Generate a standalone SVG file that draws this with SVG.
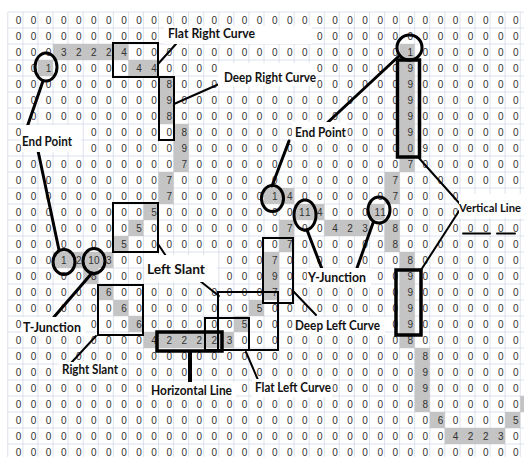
<svg xmlns="http://www.w3.org/2000/svg" width="524" height="457" viewBox="0 0 524 457">
<style>
.g{stroke:#d3dbe6;stroke-width:0.8;fill:none}
.c{fill:#c4c4c4}
.d{font-family:'Liberation Sans',Arial,sans-serif;font-size:10px;fill:#333;text-anchor:middle}
.b{fill:none;stroke:#000;stroke-width:2}
.bt{fill:none;stroke:#000;stroke-width:3.5}
.o{fill:none;stroke:#000;stroke-width:3}
.k{stroke:#000;stroke-width:3;stroke-linecap:round;fill:none}
.k2{stroke:#000;stroke-width:2;stroke-linecap:round;fill:none}
.lb{fill:#fff}
.t{font-family:Lato,'Liberation Sans',sans-serif;font-weight:700;font-size:13.5px;fill:#111}
</style>
<rect width="524" height="457" fill="#fff"/>
<g id="grid">
<path class="g" d="M7.8 12V457M22.9 12V457M37.9 12V457M53 12V457M68.1 12V457M83.2 12V457M98.2 12V457M113.3 12V457M128.4 12V457M143.4 12V457M158.5 12V457M173.6 12V457M188.6 12V457M203.7 12V457M218.8 12V457M233.9 12V457M248.9 12V457M264 12V457M279.1 12V457M294.1 12V457M309.2 12V457M324.3 12V457M339.3 12V457M354.4 12V457M369.5 12V457M384.6 12V457M399.6 12V457M414.7 12V457M429.8 12V457M444.8 12V457M459.9 12V457M475 12V457M490 12V457M505.1 12V457M520.2 12V457M7.8 12H524M7.8 28H524M7.8 44H524M7.8 60H524M7.8 76H524M7.8 92H524M7.8 108H524M7.8 124H524M7.8 140H524M7.8 156H524M7.8 172H524M7.8 188H524M7.8 204H524M7.8 220H524M7.8 236H524M7.8 252H524M7.8 268H524M7.8 284H524M7.8 300H524M7.8 316H524M7.8 332H524M7.8 348H524M7.8 364H524M7.8 380H524M7.8 396H524M7.8 412H524M7.8 428H524M7.8 444H524"/>
<g class="c">
<rect x="53" y="44" width="75.4" height="16"/>
<rect x="399.6" y="44" width="15.1" height="128"/>
<rect x="37.9" y="60" width="15.1" height="16"/>
<rect x="128.4" y="60" width="30.2" height="16"/>
<rect x="158.5" y="76" width="15.1" height="48"/>
<rect x="173.6" y="124" width="15.1" height="48"/>
<rect x="158.5" y="172" width="15.1" height="32"/>
<rect x="384.6" y="172" width="15.1" height="32"/>
<rect x="264" y="188" width="30.2" height="16"/>
<rect x="143.4" y="204" width="15.1" height="16"/>
<rect x="294.1" y="204" width="30.2" height="16"/>
<rect x="369.5" y="204" width="15.1" height="16"/>
<rect x="128.4" y="220" width="15.1" height="16"/>
<rect x="279.1" y="220" width="15.1" height="32"/>
<rect x="324.3" y="220" width="45.3" height="16"/>
<rect x="384.6" y="220" width="15.1" height="32"/>
<rect x="113.3" y="236" width="15.1" height="16"/>
<rect x="53" y="252" width="60.3" height="16"/>
<rect x="264" y="252" width="15.1" height="48"/>
<rect x="399.6" y="252" width="15.1" height="96"/>
<rect x="83.2" y="268" width="15.1" height="16"/>
<rect x="98.2" y="284" width="15.1" height="16"/>
<rect x="113.3" y="300" width="15.1" height="16"/>
<rect x="248.9" y="300" width="15.1" height="16"/>
<rect x="128.4" y="316" width="15.1" height="16"/>
<rect x="233.9" y="316" width="15.1" height="16"/>
<rect x="143.4" y="332" width="90.5" height="16"/>
<rect x="414.7" y="348" width="15.1" height="64"/>
<rect x="520.2" y="396" width="15.1" height="16"/>
<rect x="429.8" y="412" width="15.1" height="16"/>
<rect x="505.1" y="412" width="15.1" height="16"/>
<rect x="444.8" y="428" width="60.3" height="16"/>
</g>
<g class="d">
<text y="23.6" x="18.5 33.6 48.6 63.7 78.8 93.9 108.9 124 139.1 154.1 169.2 184.3 199.3 214.4 229.5 244.6 259.6 274.7 289.8 304.8 319.9 335 350 365.1 380.2 395.3 410.3 425.4 440.5 455.5 470.6 485.7 500.7 515.8">0000000000000000000000000000000000</text>
<text y="39.6" x="18.5 33.6 48.6 63.7 78.8 93.9 108.9 124 139.1 154.1">0000000000</text>
<text y="39.6" x="319.9 335 350 365.1 380.2 395.3 410.3 425.4 440.5 455.5 470.6 485.7 500.7 515.8">00000000000000</text>
<text y="55.6" x="18.5 33.6 48.6 63.7 78.8 93.9 108.9 124 139.1 154.1 169.2 184.3 199.3 214.4 229.5 244.6 259.6 274.7 289.8 304.8 319.9 335 350 365.1 380.2 395.3 410.3 425.4 440.5 455.5 470.6 485.7 500.7 515.8">0003222400000000000000000010000000</text>
<text y="71.6" x="18.5 33.6 48.6 63.7 78.8 93.9 108.9 124 139.1 154.1 169.2 184.3 199.3 214.4">00100000440000</text>
<text y="71.6" x="319.9 335 350 365.1 380.2 395.3 410.3 425.4 440.5 455.5 470.6 485.7 500.7 515.8">00000090000000</text>
<text y="87.6" x="18.5 33.6 48.6 63.7 78.8 93.9 108.9 124 139.1 154.1 169.2 184.3 199.3 214.4">00000000008000</text>
<text y="87.6" x="319.9 335 350 365.1 380.2 395.3 410.3 425.4 440.5 455.5 470.6 485.7 500.7 515.8">00000090000000</text>
<text y="103.6" x="18.5 33.6 48.6 63.7 78.8 93.9 108.9 124 139.1 154.1 169.2 184.3 199.3 214.4 229.5 244.6 259.6 274.7 289.8 304.8 319.9 335 350 365.1 380.2 395.3 410.3 425.4 440.5 455.5 470.6 485.7 500.7 515.8">0000000000900000000000000090000000</text>
<text y="119.6" x="18.5 33.6 48.6 63.7 78.8 93.9 108.9 124 139.1 154.1 169.2 184.3 199.3 214.4 229.5 244.6 259.6 274.7 289.8 304.8 319.9 335 350 365.1 380.2 395.3 410.3 425.4 440.5 455.5 470.6 485.7 500.7 515.8">0000000000800000000000000090000000</text>
<text y="135.6" x="18.5">0</text>
<text y="135.6" x="93.9 108.9 124 139.1 154.1 169.2 184.3 199.3 214.4 229.5 244.6 259.6 274.7 289.8">00000080000000</text>
<text y="135.6" x="350 365.1 380.2 395.3 410.3 425.4 440.5 455.5 470.6 485.7 500.7 515.8">000090000000</text>
<text y="151.6" x="18.5">0</text>
<text y="151.6" x="93.9 108.9 124 139.1 154.1 169.2 184.3 199.3 214.4 229.5 244.6 259.6 274.7 289.8 304.8 319.9 335 350 365.1 380.2 395.3 410.3 425.4 440.5 455.5 470.6 485.7 500.7 515.8">00000090000000000000009000000</text>
<text y="167.6" x="18.5 33.6 48.6 63.7 78.8 93.9 108.9 124 139.1 154.1 169.2 184.3 199.3 214.4 229.5 244.6 259.6 274.7 289.8 304.8 319.9 335 350 365.1 380.2 395.3 410.3 425.4 440.5 455.5 470.6 485.7 500.7 515.8">0000000000070000000000000070000000</text>
<text y="183.6" x="18.5 33.6 48.6 63.7 78.8 93.9 108.9 124 139.1 154.1 169.2 184.3 199.3 214.4 229.5 244.6 259.6 274.7 289.8 304.8 319.9 335 350 365.1 380.2 395.3 410.3 425.4 440.5 455.5 470.6 485.7 500.7 515.8">0000000000700000000000000700000000</text>
<text y="199.6" x="18.5 33.6 48.6 63.7 78.8 93.9 108.9 124 139.1 154.1 169.2 184.3 199.3 214.4 229.5 244.6 259.6 274.7 289.8 304.8 319.9 335 350 365.1 380.2 395.3 410.3 425.4 440.5 455.5">000000000070000001400000070000</text>
<text y="215.6" x="18.5 33.6 48.6 63.7 78.8 93.9 108.9 124 139.1 154.1 169.2 184.3 199.3 214.4 229.5 244.6 259.6 274.7 289.8 301.9 307.7 319.9 335 350 365.1 377.3 383.1 395.3 410.3 425.4 440.5 455.5">00000000050000000001140001100000</text>
<text y="231.6" x="18.5 33.6 48.6 63.7 78.8 93.9 108.9 124 139.1 154.1 169.2 184.3 199.3 214.4 229.5 244.6 259.6 274.7 289.8 304.8 319.9 335 350 365.1 380.2 395.3 410.3 425.4 440.5 455.5 470.6 485.7 500.7 515.8">0000000050000000007004230800000000</text>
<text y="247.6" x="18.5 33.6 48.6 63.7 78.8 93.9 108.9 124 139.1 154.1 169.2 184.3 199.3 214.4 229.5 244.6 259.6 274.7 289.8 304.8 319.9 335 350 365.1 380.2 395.3 410.3 425.4 440.5 455.5 470.6 485.7 500.7 515.8">0000000500000000007000000800000000</text>
<text y="263.6" x="18.5 33.6 48.6 63.7 78.8 91 96.8 108.9 124 139.1">0001210300</text>
<text y="263.6" x="229.5 244.6 259.6 274.7 289.8 304.8 319.9 335 350 365.1 380.2 395.3 410.3 425.4 440.5 455.5 470.6 485.7 500.7 515.8">00070000000080000000</text>
<text y="279.6" x="18.5 33.6 48.6 63.7 78.8 93.9 108.9 124 139.1">000008000</text>
<text y="279.6" x="229.5 244.6 259.6 274.7 289.8 304.8">000900</text>
<text y="279.6" x="380.2 395.3 410.3 425.4 440.5 455.5 470.6 485.7 500.7 515.8">0090000000</text>
<text y="295.6" x="18.5 33.6 48.6 63.7 78.8 93.9 108.9 124 139.1 154.1 169.2 184.3 199.3 214.4 229.5 244.6 259.6 274.7 289.8 304.8 319.9 335 350 365.1 380.2 395.3 410.3 425.4 440.5 455.5 470.6 485.7 500.7 515.8">0000006000000000070000000090000000</text>
<text y="311.6" x="18.5 33.6 48.6 63.7 78.8 93.9 108.9 124 139.1 154.1 169.2 184.3 199.3 214.4 229.5 244.6 259.6 274.7 289.8 304.8 319.9 335 350 365.1 380.2 395.3 410.3 425.4 440.5 455.5 470.6 485.7 500.7 515.8">0000000600000000500000000090000000</text>
<text y="327.6" x="18.5">0</text>
<text y="327.6" x="93.9 108.9 124 139.1 154.1 169.2 184.3 199.3 214.4 229.5 244.6 259.6 274.7 289.8">00060000005000</text>
<text y="327.6" x="395.3 410.3 425.4 440.5 455.5 470.6 485.7 500.7 515.8">090000000</text>
<text y="343.6" x="18.5 33.6 48.6 63.7 78.8 93.9 108.9 124 139.1 154.1 169.2 184.3 199.3 214.4 229.5 244.6 259.6 274.7 289.8 304.8 319.9 335 350 365.1 380.2 395.3 410.3 425.4 440.5 455.5 470.6 485.7 500.7 515.8">0000000004222230000000000080000000</text>
<text y="359.6" x="18.5 33.6 48.6 63.7 78.8 93.9 108.9 124 139.1 154.1 169.2 184.3 199.3 214.4 229.5 244.6 259.6 274.7 289.8 304.8 319.9 335 350 365.1 380.2 395.3 410.3 425.4 440.5 455.5 470.6 485.7 500.7 515.8">0000000000000000000000000008000000</text>
<text y="375.6" x="18.5 33.6 48.6">000</text>
<text y="375.6" x="124 139.1 154.1 169.2 184.3 199.3 214.4 229.5 244.6 259.6 274.7 289.8 304.8 319.9 335 350 365.1 380.2 395.3 410.3 425.4 440.5 455.5 470.6 485.7 500.7 515.8">000000000000000000009000000</text>
<text y="391.6" x="18.5 33.6 48.6 63.7 78.8 93.9 108.9 124 139.1">000000000</text>
<text y="391.6" x="244.6">0</text>
<text y="391.6" x="335 350 365.1 380.2 395.3 410.3 425.4 440.5 455.5 470.6 485.7 500.7 515.8">0000009000000</text>
<text y="407.6" x="18.5 33.6 48.6 63.7 78.8 93.9 108.9 124 139.1 154.1 169.2 184.3 199.3 214.4 229.5 244.6 259.6 274.7 289.8 304.8 319.9 335 350 365.1 380.2 395.3 410.3 425.4 440.5 455.5 470.6 485.7 500.7 515.8">0000000000000000000000000008000000</text>
<text y="423.6" x="18.5 33.6 48.6 63.7 78.8 93.9 108.9 124 139.1 154.1 169.2 184.3 199.3 214.4 229.5 244.6 259.6 274.7 289.8 304.8 319.9 335 350 365.1 380.2 395.3 410.3 425.4 440.5 455.5 470.6 485.7 500.7 515.8">0000000000000000000000000000600005</text>
<text y="439.6" x="18.5 33.6 48.6 63.7 78.8 93.9 108.9 124 139.1 154.1 169.2 184.3 199.3 214.4 229.5 244.6 259.6 274.7 289.8 304.8 319.9 335 350 365.1 380.2 395.3 410.3 425.4 440.5 455.5 470.6 485.7 500.7 515.8">0000000000000000000000000000042230</text>
<text y="455.6" x="18.5 33.6 48.6 63.7 78.8 93.9 108.9 124 139.1 154.1 169.2 184.3 199.3 214.4 229.5 244.6 259.6 274.7 289.8 304.8 319.9 335 350 365.1 380.2 395.3 410.3 425.4 440.5 455.5 470.6 485.7 500.7 515.8">0000000000000000000000000000000000</text>
</g>
</g>
<g id="boxes">
<rect id="box-flat-right" class="b" x="113" y="43" width="45" height="34"/>
<rect id="box-deep-right" class="b" x="159" y="77" width="15" height="63"/>
<rect id="box-left-slant-1" class="b" x="113" y="203" width="45" height="49"/>
<rect id="box-right-slant" class="b" x="98" y="285" width="45" height="50"/>
<rect id="box-left-slant-2" class="b" x="218" y="292" width="60" height="58"/>
<rect id="box-flat-left" class="b" x="205" y="318" width="44" height="32"/>
<rect id="box-horizontal" class="bt" x="157" y="332" width="65" height="19"/>
<rect id="box-deep-left" class="b" x="263" y="238" width="30" height="65"/>
<rect id="box-vertical-1" class="bt" x="397.5" y="60" width="22" height="97"/>
<rect id="box-vertical-2" class="bt" x="396" y="270" width="25" height="65"/>
</g>
<g id="circles" class="o">
<ellipse id="c-end-1" cx="46" cy="67" rx="11" ry="14"/>
<circle id="c-end-2" cx="409.5" cy="47.5" r="12.5"/>
<ellipse id="c-end-3" cx="272.5" cy="198.5" rx="11" ry="13"/>
<ellipse id="c-y-1" cx="305" cy="215" rx="11" ry="15"/>
<ellipse id="c-y-2" cx="379" cy="210" rx="11" ry="13"/>
<ellipse id="c-end-4" cx="64" cy="262" rx="11" ry="12.5"/>
<ellipse id="c-t" cx="94" cy="261" rx="11" ry="12.5"/>
</g>
<g id="connectors">
<line class="k2" x1="158" y1="64" x2="176" y2="44"/>
<line class="k2" x1="174" y1="104" x2="226" y2="81"/>
<line class="k" x1="43" y1="81" x2="24" y2="136"/>
<line class="k" x1="37" y1="146" x2="59" y2="250"/>
<line class="k" x1="92" y1="273" x2="54" y2="317"/>
<line class="k2" x1="158" y1="244" x2="168" y2="259"/>
<line class="k2" x1="195" y1="277" x2="219" y2="296"/>
<line class="k2" x1="293" y1="291" x2="316" y2="315"/>
<line class="k" x1="307" y1="230" x2="322" y2="269"/>
<line class="k" x1="373" y1="223" x2="357" y2="268"/>
<line class="k" x1="289" y1="141" x2="272" y2="186"/>
<line class="k" x1="326" y1="124" x2="399" y2="56"/>
<line class="k2" x1="418" y1="157" x2="460" y2="204"/>
<line class="k2" x1="459" y1="211" x2="421" y2="270"/>
<line class="k2" x1="463" y1="233.5" x2="490" y2="233.5"/>
<line class="k2" x1="497" y1="233.5" x2="515" y2="233.5"/>
<line class="k" style="stroke-width:4" x1="190" y1="352" x2="190" y2="383"/>
<line class="k2" x1="246" y1="352" x2="258" y2="380"/>
<line class="k2" x1="96" y1="336" x2="71" y2="363"/>
</g>
<g id="label-flat-right-curve"><rect class="lb" x="164" y="26" width="148" height="18"/><text class="t" x="168" y="38" textLength="87" lengthAdjust="spacingAndGlyphs">Flat Right Curve</text></g>
<g id="label-deep-right-curve"><rect class="lb" x="218" y="63" width="98" height="23"/><text class="t" x="224" y="82" textLength="92" lengthAdjust="spacingAndGlyphs">Deep Right Curve</text></g>
<g id="label-end-point-1"><rect class="lb" x="21" y="125" width="60" height="27"/><text class="t" x="22" y="146" textLength="50" lengthAdjust="spacingAndGlyphs">End Point</text></g>
<g id="label-end-point-2"><rect class="lb" x="292" y="122" width="55" height="19"/><text class="t" x="295" y="137" textLength="51" lengthAdjust="spacingAndGlyphs">End Point</text></g>
<g id="label-vertical-line"><rect class="lb" x="459" y="194" width="65" height="24"/><text class="t" style="font-size:11.6px" x="459" y="212" textLength="62" lengthAdjust="spacingAndGlyphs">Vertical Line</text></g>
<g id="label-y-junction"><rect class="lb" x="307" y="268" width="64" height="19"/><text class="t" x="308" y="282" textLength="58" lengthAdjust="spacingAndGlyphs">Y-Junction</text></g>
<g id="label-t-junction"><rect class="lb" x="22" y="317" width="64" height="19"/><text class="t" x="23" y="331.5" textLength="58" lengthAdjust="spacingAndGlyphs">T-Junction</text></g>
<g id="label-left-slant"><rect class="lb" x="145" y="255" width="72" height="27"/><text class="t" x="147" y="274" textLength="58" lengthAdjust="spacingAndGlyphs">Left Slant</text></g>
<g id="label-deep-left-curve"><rect class="lb" x="293" y="317" width="92" height="18"/><text class="t" x="295" y="330" textLength="85" lengthAdjust="spacingAndGlyphs">Deep Left Curve</text></g>
<g id="label-right-slant"><rect class="lb" x="59" y="362" width="62" height="17"/><text class="t" x="62" y="374" textLength="56" lengthAdjust="spacingAndGlyphs">Right Slant</text></g>
<g id="label-horizontal-line"><rect class="lb" x="148" y="382" width="88" height="18"/><text class="t" style="font-size:12.8px" x="151" y="395" textLength="81" lengthAdjust="spacingAndGlyphs">Horizontal Line</text></g>
<g id="label-flat-left-curve"><rect class="lb" x="252" y="379" width="80" height="18"/><text class="t" x="255" y="392" textLength="76" lengthAdjust="spacingAndGlyphs">Flat Left Curve</text></g>
</svg>
